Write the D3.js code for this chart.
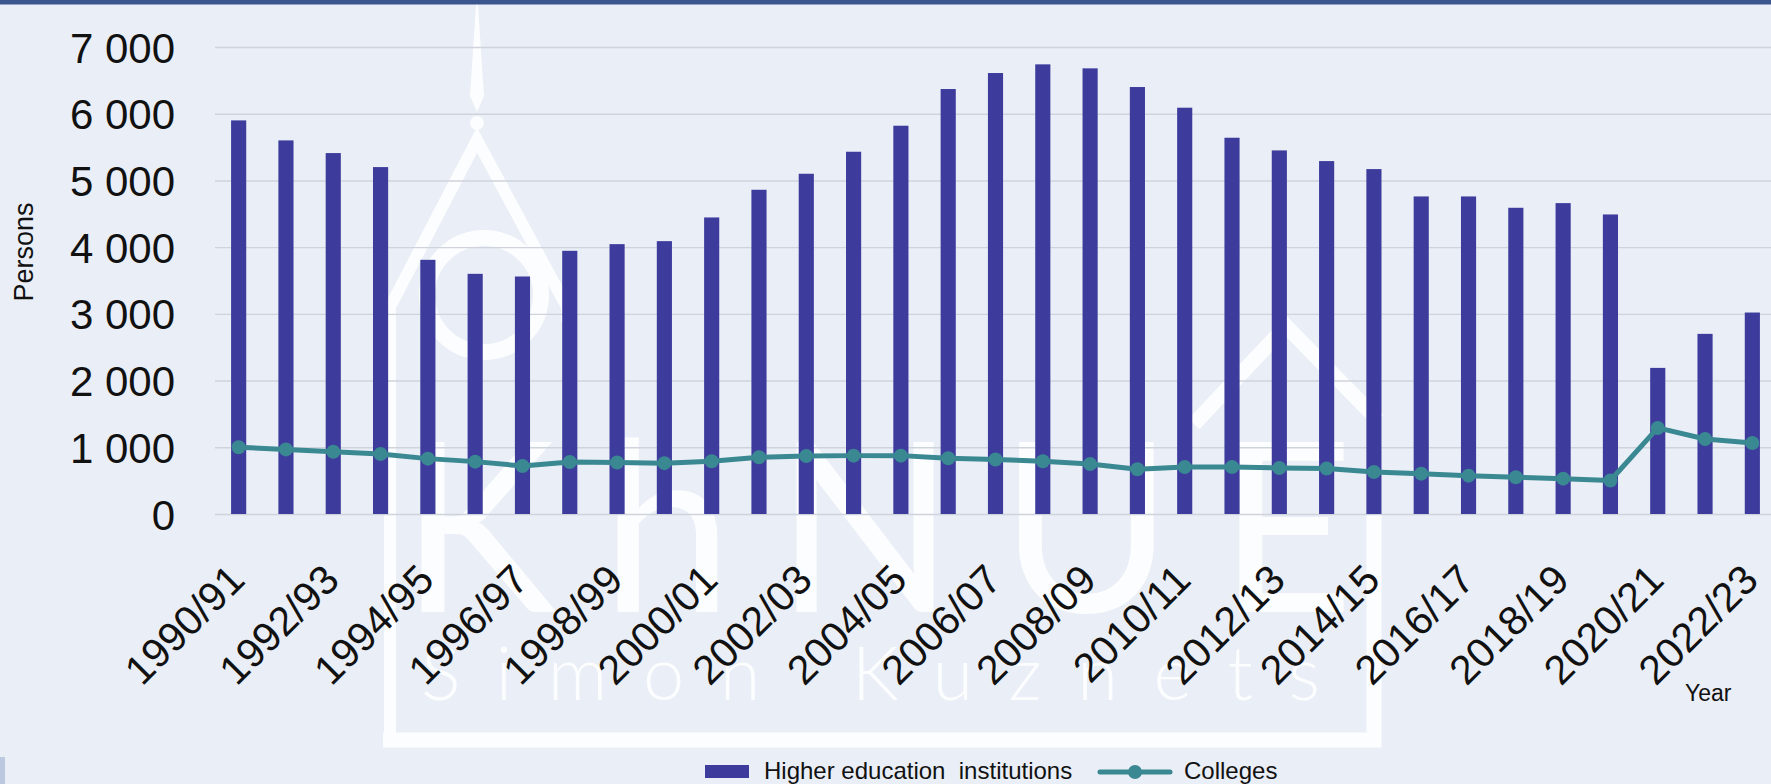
<!DOCTYPE html>
<html>
<head>
<meta charset="utf-8">
<script src="https://cdn.jsdelivr.net/npm/d3@7"></script>
<style>
  html, body { margin: 0; padding: 0; background: #eaeef6; }
  svg { display: block; }
  text { font-family: "Liberation Sans", Arial, sans-serif; fill: #111; }
</style>
</head>
<body>
<svg id="chart" width="1771" height="784"></svg>
<script>
// Academic years shown on the category axis
const years = [
  "1990/91","1991/92","1992/93","1993/94","1994/95","1995/96","1996/97","1997/98",
  "1998/99","1999/00","2000/01","2001/02","2002/03","2003/04","2004/05","2005/06",
  "2006/07","2007/08","2008/09","2009/10","2010/11","2011/12","2012/13","2013/14",
  "2014/15","2015/16","2016/17","2017/18","2018/19","2019/20","2020/21","2021/22",
  "2022/23"
];

// Higher education institutions, persons
const higherEducation = [
  5900, 5600, 5410, 5200, 3810, 3600, 3560, 3945,
  4045, 4090, 4445, 4860, 5100, 5430, 5820, 6370,
  6610, 6740, 6680, 6400, 6090, 5640, 5450, 5290,
  5170, 4760, 4760, 4590, 4660, 4490, 2190, 2700,
  3020
];

// Colleges, persons
const colleges = [
  1000, 968, 932, 900, 830, 785, 720, 780,
  772, 762, 790, 850, 870, 875, 875, 835,
  818, 790, 748, 670, 705, 705, 690, 682,
  630, 605, 575, 550, 530, 502, 1290, 1125,
  1065
];

// Value axis ticks
const yTicks = [0, 1000, 2000, 3000, 4000, 5000, 6000, 7000];

// Category labels: every second academic year
const xLabels = years.filter((d, i) => i % 2 === 0);

const seriesNames = ["Higher education institutions", "Colleges"];

const W = 1771, H = 784;
const plot = { left: 215, right: 1776, top: 47, bottom: 514 };
const barColor = "#3d3c9d";
const lineColor = "#3a8891";

const svg = d3.select("#chart");

svg.append("rect").attr("width", W).attr("height", H).attr("fill", "#eaeef6");

// ---- background logo (white, under the chart) ----
const logo = svg.append("g").attr("fill", "none").attr("stroke", "#ffffff")
  .attr("opacity", 0.9);
// spire needle
logo.append("path").attr("fill", "#fff").attr("stroke", "none")
  .attr("d", "M476,4 L478,4 L484,96 L477,112 L470,96 Z");
logo.append("circle").attr("fill", "#fff").attr("stroke", "none")
  .attr("cx", 477).attr("cy", 123).attr("r", 7);
// compass legs
logo.append("path").attr("stroke-width", 12).attr("stroke-linejoin", "miter")
  .attr("d", "M390,740 L390,307 L477,140 L567,307 L567,322");
// ring
logo.append("circle").attr("cx", 484).attr("cy", 295).attr("r", 57).attr("stroke-width", 16);
// frame with roof
logo.append("path").attr("stroke-width", 15)
  .attr("d", "M383,740 L1374,740 L1374,413 M1194,424 L1286,326 L1378,420");
logo.append("text")
  .attr("x", 400).attr("y", 612)
  .attr("textLength", 954).attr("lengthAdjust", "spacing")
  .style("font-family", "Lato, 'Open Sans', sans-serif")
  .style("font-weight", 400)
  .style("font-size", "236px")
  .style("fill", "#fff").attr("stroke", "none")
  .text("KhNUE");
logo.append("text")
  .attr("x", 421).attr("y", 700)
  .attr("textLength", 899).attr("lengthAdjust", "spacing")
  .style("font-family", "Lato, 'Open Sans', sans-serif")
  .style("font-weight", 300)
  .style("font-size", "74px")
  .style("fill", "#fff").attr("stroke", "none")
  .text("Simon Kuznets");

// top band
svg.append("rect").attr("x", 0).attr("y", 0).attr("width", W).attr("height", 4.5)
  .attr("fill", "#3b568f");
// small mark at lower left edge
svg.append("rect").attr("x", 0).attr("y", 757).attr("width", 5).attr("height", 27)
  .attr("fill", "#bcc7e0");

// ---- scales ----
const x = d3.scaleBand().domain(years).range([plot.left, plot.right]).padding(0);
const y = d3.scaleLinear().domain([0, 7000]).range([plot.bottom, plot.top]);
const barW = x.bandwidth() * 0.32;
const cx = d => x(d) + x.bandwidth() / 2;

// gridlines
const grid = svg.append("g").attr("transform", `translate(${plot.left},0)`)
  .call(d3.axisLeft(y).tickValues(yTicks).tickSize(-(plot.right - plot.left)).tickFormat(""));
grid.select(".domain").remove();
grid.selectAll(".tick line").attr("stroke", "#cfd3db").attr("stroke-width", 1.4);

// value axis labels
const fmt = v => d3.format(",")(v).replace(/,/g, " ");
const yAxis = svg.append("g").attr("transform", "translate(175,0)")
  .call(d3.axisLeft(y).tickValues(yTicks).tickSize(0).tickPadding(0).tickFormat(fmt));
yAxis.select(".domain").remove();
yAxis.selectAll("text")
  .style("font-size", "42px").style("font-family", "'Liberation Sans', Arial, sans-serif")
  .attr("fill", "#111").attr("dy", "0.36em");

// category axis labels
const xAxis = svg.append("g").attr("transform", `translate(0,${plot.bottom})`)
  .call(d3.axisBottom(x).tickValues(xLabels).tickSize(0).tickPadding(0));
xAxis.select(".domain").remove();
xAxis.selectAll("text")
  .style("font-size", "41px").style("font-family", "'Liberation Sans', Arial, sans-serif")
  .attr("fill", "#111")
  .attr("x", 0).attr("y", 0).attr("dy", "0.35em")
  .attr("transform", "translate(-2,58) rotate(-45)")
  .style("text-anchor", "end");

// bars
svg.append("g").selectAll("rect")
  .data(years.map((yr, i) => ({ yr, v: higherEducation[i] })))
  .join("rect")
  .attr("x", d => cx(d.yr) - barW / 2)
  .attr("y", d => y(d.v))
  .attr("width", barW)
  .attr("height", d => y(0) - y(d.v))
  .attr("fill", barColor);

// colleges line with markers
const pts = years.map((yr, i) => ({ yr, v: colleges[i] }));
svg.append("path").datum(pts)
  .attr("fill", "none").attr("stroke", lineColor).attr("stroke-width", 5)
  .attr("stroke-linejoin", "round")
  .attr("d", d3.line().x(d => cx(d.yr)).y(d => y(d.v)));
svg.append("g").selectAll("circle").data(pts).join("circle")
  .attr("cx", d => cx(d.yr)).attr("cy", d => y(d.v)).attr("r", 7)
  .attr("fill", lineColor);

// axis titles
svg.append("text")
  .attr("transform", "translate(33,252) rotate(-90)")
  .attr("text-anchor", "middle")
  .style("font-size", "27px")
  .text("Persons");
svg.append("text")
  .attr("x", 1685).attr("y", 701)
  .style("font-size", "23px")
  .text("Year");

// legend
const legend = svg.append("g");
legend.append("rect").attr("x", 705).attr("y", 765).attr("width", 44).attr("height", 13)
  .attr("fill", barColor);
legend.append("text").attr("x", 764).attr("y", 779).style("font-size", "24px")
  .attr("xml:space", "preserve")
  .text(seriesNames[0].replace(" institutions", "  institutions"));
legend.append("line").attr("x1", 1100).attr("x2", 1170).attr("y1", 772).attr("y2", 772)
  .attr("stroke", lineColor).attr("stroke-width", 5).attr("stroke-linecap", "round");
legend.append("circle").attr("cx", 1135).attr("cy", 772).attr("r", 7).attr("fill", lineColor);
legend.append("text").attr("x", 1184).attr("y", 779).style("font-size", "24px")
  .text(seriesNames[1]);
</script>
</body>
</html>
